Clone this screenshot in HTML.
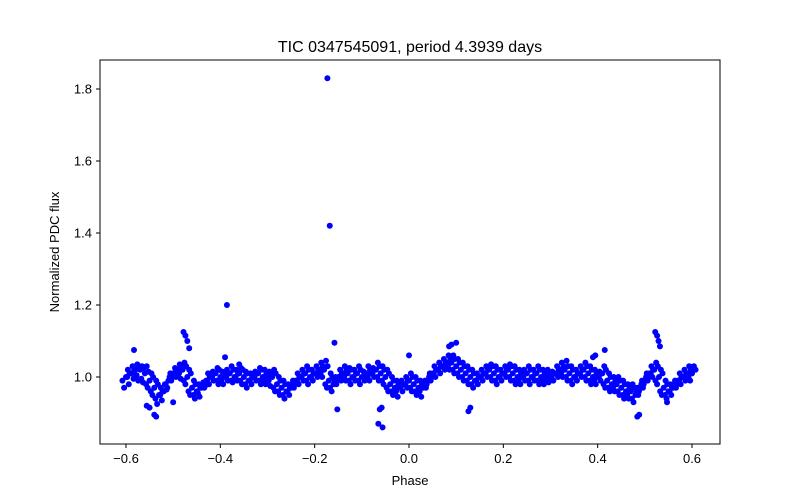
<!DOCTYPE html>
<html><head><meta charset="utf-8"><style>
body{margin:0;background:#fff}
svg{display:block;font-family:"Liberation Sans","DejaVu Sans",sans-serif}
</style></head><body>
<svg id="chart" width="800" height="500">
<rect width="800" height="500" fill="#fff"/>
<text x="410" y="52" text-anchor="middle" font-size="16">TIC 0347545091, period 4.3939 days</text>
<text x="410" y="485" text-anchor="middle" font-size="13">Phase</text>
<text x="59" y="252" text-anchor="middle" font-size="13" transform="rotate(-90 59 252)">Normalized PDC flux</text>
<g id="marks"></g>
<g id="axes"></g>
<rect x="100" y="60" width="620" height="384" fill="none" stroke="#000" stroke-width="1"/>
</svg>
<script>
const phaseStart = -0.60, phaseStep = 0.01;
const fluxMid = [1.00,1.01,1.02,1.02,1.01,0.99,0.97,0.95,0.96,0.99,1.01,1.02,1.02,1.00,0.97,0.96,0.97,0.99,1.00,1.01,1.00,1.00,1.01,1.00,1.01,1.00,0.99,1.00,1.01,1.00,1.00,1.00,0.98,0.97,0.96,0.97,0.99,1.00,1.01,1.00,1.01,1.02,1.02,0.99,0.98,1.00,1.01,1.01,1.00,1.01,1.00,1.01,1.01,1.02,1.01,1.00,0.98,0.97,0.97,0.98,0.99,0.98,0.97,0.97,0.99,1.01,1.02,1.03,1.04,1.04,1.03,1.02,1.01,1.00,0.99,1.00,1.01,1.02,1.01,1.00,1.01,1.02,1.01,1.00,1.00,1.01,1.00,1.01,1.00,1.00,1.00,1.01,1.02,1.02,1.01,1.00,1.01,1.02,1.01,1.00,1.00,1.01,0.99,0.98,0.98,0.97,0.96,0.96,0.95,0.97,0.99,1.01,1.02,1.00,0.97,0.96,0.97,0.99,1.00,1.01,1.01];
const fluxHigh = [1.02,1.03,1.035,1.03,1.03,1.01,0.99,0.97,0.98,1.01,1.025,1.035,1.04,1.02,0.99,0.98,0.985,1.01,1.015,1.025,1.015,1.02,1.03,1.02,1.025,1.015,1.01,1.015,1.025,1.02,1.015,1.02,1.0,0.99,0.98,0.99,1.01,1.02,1.03,1.02,1.03,1.04,1.045,1.01,1.0,1.02,1.03,1.025,1.02,1.03,1.015,1.03,1.025,1.04,1.03,1.02,1.0,0.99,0.99,1.0,1.01,1.0,0.99,0.99,1.01,1.03,1.04,1.05,1.06,1.06,1.05,1.04,1.03,1.02,1.01,1.02,1.03,1.035,1.03,1.02,1.03,1.035,1.03,1.02,1.02,1.03,1.02,1.03,1.02,1.02,1.015,1.03,1.04,1.045,1.03,1.02,1.03,1.04,1.03,1.02,1.015,1.03,1.01,1.0,1.0,0.99,0.98,0.98,0.97,0.99,1.01,1.03,1.04,1.02,0.99,0.98,0.99,1.01,1.02,1.03,1.03];
const fluxLow = [0.97,0.98,0.995,0.99,0.985,0.97,0.95,0.925,0.935,0.965,0.99,1.0,0.995,0.98,0.95,0.94,0.945,0.97,0.98,0.99,0.98,0.98,0.99,0.985,0.99,0.98,0.97,0.98,0.99,0.98,0.98,0.975,0.96,0.95,0.94,0.95,0.97,0.98,0.99,0.98,0.99,1.0,1.0,0.97,0.96,0.98,0.99,0.99,0.98,0.99,0.98,0.99,0.99,1.0,0.99,0.98,0.96,0.95,0.945,0.96,0.97,0.96,0.95,0.945,0.97,0.99,1.0,1.01,1.02,1.02,1.01,1.0,0.99,0.98,0.97,0.98,0.99,1.0,0.99,0.98,0.99,1.0,0.99,0.98,0.98,0.99,0.98,0.99,0.98,0.98,0.985,0.99,1.0,1.0,0.99,0.98,0.99,1.0,0.99,0.98,0.98,0.99,0.97,0.96,0.96,0.95,0.94,0.94,0.93,0.95,0.97,0.99,1.0,0.98,0.95,0.94,0.95,0.97,0.98,0.99,0.99];
const fluxUpperMid = [1.01,1.02,1.03,1.025,1.015,1.0,0.98,0.96,0.97,1.0,1.02,1.03,1.03,1.01,0.98,0.97,0.975,1.0,1.01,1.02,1.01,1.01,1.02,1.01,1.02,1.01,1.0,1.01,1.02,1.01,1.01,1.01,0.99,0.98,0.97,0.98,1.0,1.01,1.02,1.01,1.02,1.03,1.03,1.0,0.99,1.01,1.02,1.02,1.01,1.02,1.01,1.02,1.02,1.03,1.02,1.01,0.99,0.98,0.98,0.99,1.0,0.99,0.98,0.98,1.0,1.02,1.03,1.04,1.05,1.05,1.04,1.03,1.02,1.01,1.0,1.01,1.02,1.03,1.02,1.01,1.02,1.03,1.02,1.01,1.01,1.02,1.01,1.02,1.01,1.01,1.01,1.02,1.03,1.03,1.02,1.01,1.02,1.03,1.02,1.01,1.01,1.02,1.0,0.99,0.99,0.98,0.97,0.97,0.96,0.98,1.0,1.02,1.03,1.01,0.98,0.97,0.98,1.0,1.01,1.02,1.02];
const fluxLowerMid = [0.99,1.0,1.01,1.005,0.995,0.98,0.96,0.94,0.95,0.98,1.0,1.01,1.01,0.99,0.96,0.95,0.955,0.98,0.99,1.0,0.99,0.99,1.0,0.99,1.0,0.99,0.98,0.99,1.0,0.99,0.99,0.99,0.97,0.96,0.95,0.96,0.98,0.99,1.0,0.99,1.0,1.01,1.01,0.98,0.97,0.99,1.0,1.0,0.99,1.0,0.99,1.0,1.0,1.01,1.0,0.99,0.97,0.96,0.96,0.97,0.98,0.97,0.96,0.96,0.98,1.0,1.01,1.02,1.03,1.03,1.02,1.01,1.0,0.99,0.98,0.99,1.0,1.01,1.0,0.99,1.0,1.01,1.0,0.99,0.99,1.0,0.99,1.0,0.99,0.99,0.99,1.0,1.01,1.01,1.0,0.99,1.0,1.01,1.0,0.99,0.99,1.0,0.98,0.97,0.97,0.96,0.95,0.95,0.94,0.96,0.98,1.0,1.01,0.99,0.96,0.95,0.96,0.98,0.99,1.0,1.0];
const outlierPhase = [-0.173,-0.168,-0.386,-0.158,-0.478,-0.474,-0.470,-0.466,0.522,0.526,0.529,0.532,-0.583,-0.152,-0.065,-0.056,-0.058,-0.062,-0.536,-0.540,0.484,0.488,0.126,0.130,0.415,-0.550,-0.556,0.090,0.100,0.085,0.000,0.390,0.395,-0.390,-0.500,0.547,-0.360];
const outlierFlux = [1.83,1.42,1.20,1.095,1.125,1.115,1.10,1.08,1.125,1.115,1.10,1.085,1.075,0.91,0.87,0.86,0.915,0.91,0.89,0.895,0.89,0.895,0.905,0.915,1.075,0.915,0.92,1.09,1.095,1.085,1.06,1.055,1.06,1.055,0.93,0.93,1.035];
const xTicks = [-0.6,-0.4,-0.2,0.0,0.2,0.4,0.6];
const xTickLabels = ["\u22120.6","\u22120.4","\u22120.2","0.0","0.2","0.4","0.6"];
const yTicks = [1.0,1.2,1.4,1.6,1.8];
const yTickLabels = ["1.0","1.2","1.4","1.6","1.8"];

const NS = "http://www.w3.org/2000/svg";
function xs(v){ return 409 + v * 471.7; }
function ys(v){ return 377 - (v - 1.0) * 360; }
const marks = document.getElementById('marks');
function dot(p, f){
  const c = document.createElementNS(NS, 'circle');
  c.setAttribute('cx', xs(p)); c.setAttribute('cy', ys(f)); c.setAttribute('r', 3);
  c.setAttribute('fill', '#0000ff');
  
  
  marks.appendChild(c);
}
for (let i = 0; i < fluxMid.length; i++) dot(phaseStart + i*phaseStep, fluxMid[i]);
for (let i = 0; i < fluxHigh.length; i++) dot(phaseStart + i*phaseStep + 0.004, fluxHigh[i]);
for (let i = 0; i < fluxLow.length; i++) dot(phaseStart + i*phaseStep - 0.004, fluxLow[i]);
for (let i = 0; i < fluxUpperMid.length; i++) dot(phaseStart + i*phaseStep + 0.0075, fluxUpperMid[i]);
for (let i = 0; i < fluxLowerMid.length; i++) dot(phaseStart + i*phaseStep - 0.0075, fluxLowerMid[i]);
for (let i = 0; i < outlierPhase.length; i++) dot(outlierPhase[i], outlierFlux[i]);

const axes = document.getElementById('axes');
xTicks.forEach((t, i) => {
  const l = document.createElementNS(NS, 'line');
  l.setAttribute('x1', xs(t)); l.setAttribute('x2', xs(t)); l.setAttribute('y1', 444); l.setAttribute('y2', 448);
  l.setAttribute('stroke', '#000');
  
  
  axes.appendChild(l);
  const tx = document.createElementNS(NS, 'text');
  tx.setAttribute('x', xs(t)); tx.setAttribute('y', 463); tx.setAttribute('text-anchor', 'middle'); tx.setAttribute('font-size', '13');
  tx.textContent = xTickLabels[i];
  
  
  axes.appendChild(tx);
});
yTicks.forEach((t, i) => {
  const l = document.createElementNS(NS, 'line');
  l.setAttribute('x1', 96); l.setAttribute('x2', 100); l.setAttribute('y1', ys(t)); l.setAttribute('y2', ys(t));
  l.setAttribute('stroke', '#000');
  
  
  axes.appendChild(l);
  const tx = document.createElementNS(NS, 'text');
  tx.setAttribute('x', 92); tx.setAttribute('y', ys(t) + 4.5); tx.setAttribute('text-anchor', 'end'); tx.setAttribute('font-size', '13');
  tx.textContent = yTickLabels[i];
  
  
  axes.appendChild(tx);
});
</script>
</body></html>
